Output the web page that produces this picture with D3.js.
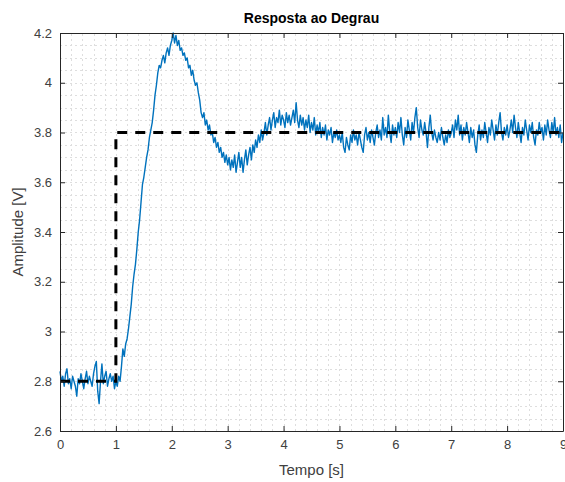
<!DOCTYPE html>
<html>
<head>
<meta charset="utf-8">
<script src="https://cdn.jsdelivr.net/npm/d3@7"></script>
<style>
  html, body { margin: 0; padding: 0; background: #fff; }
  svg { display: block; font-family: "Liberation Sans", Arial, sans-serif; }
</style>
</head>
<body>
<svg id="chart" width="565" height="482"></svg>
<script>
// ── Data ─────────────────────────────────────────────
const SAMPLE_START = 0;
const SAMPLE_STEP  = 0.025;   // s between samples
// measured output, one row per second
const amplitude = [
  2.84,2.80,2.82,2.78,2.83,2.85,2.79,2.81,2.77,2.82,2.80,2.78,2.74,2.81,2.79,2.83,2.80,2.77,2.81,2.84,2.79,2.82,2.80,2.78,2.83,2.86,2.88,2.76,2.71,2.80,2.87,2.79,2.82,2.84,2.78,2.81,2.83,2.80,2.82,2.77,
  2.80,2.78,2.82,2.80,2.86,2.93,2.90,2.95,2.97,3.01,3.06,3.11,3.18,3.23,3.27,3.33,3.40,3.45,3.52,3.59,3.62,3.66,3.70,3.73,3.78,3.81,3.84,3.89,3.95,3.99,4.04,4.07,4.06,4.09,4.11,4.08,4.12,4.14,4.11,4.15,
  4.17,4.20,4.16,4.19,4.15,4.17,4.13,4.14,4.11,4.12,4.09,4.10,4.06,4.07,4.03,4.05,4.01,3.99,4.00,3.96,3.93,3.88,3.86,3.88,3.83,3.85,3.81,3.83,3.79,3.80,3.76,3.78,3.74,3.76,3.72,3.74,3.70,3.72,3.68,3.71,
  3.67,3.70,3.65,3.69,3.66,3.71,3.64,3.68,3.72,3.66,3.70,3.64,3.69,3.73,3.67,3.71,3.74,3.69,3.75,3.72,3.77,3.74,3.79,3.76,3.81,3.77,3.80,3.84,3.79,3.83,3.86,3.81,3.85,3.88,3.82,3.86,3.84,3.89,3.83,3.87,
  3.85,3.82,3.88,3.84,3.87,3.83,3.86,3.89,3.84,3.92,3.85,3.82,3.87,3.83,3.86,3.81,3.85,3.82,3.87,3.80,3.84,3.81,3.86,3.79,3.83,3.80,3.84,3.78,3.82,3.79,3.83,3.77,3.81,3.79,3.82,3.76,3.80,3.78,3.81,3.77,
  3.79,3.76,3.80,3.74,3.72,3.78,3.75,3.73,3.79,3.76,3.81,3.77,3.79,3.75,3.80,3.77,3.74,3.72,3.79,3.82,3.77,3.80,3.76,3.81,3.78,3.75,3.80,3.83,3.78,3.81,3.77,3.86,3.79,3.82,3.78,3.87,3.80,3.76,3.83,3.79,
  3.82,3.78,3.84,3.80,3.86,3.79,3.75,3.82,3.78,3.85,3.81,3.77,3.84,3.80,3.86,3.90,3.82,3.78,3.85,3.81,3.79,3.84,3.80,3.74,3.82,3.87,3.80,3.77,3.81,3.78,3.76,3.80,3.77,3.82,3.78,3.75,3.79,3.76,3.81,3.78,
  3.80,3.83,3.78,3.85,3.81,3.87,3.79,3.83,3.77,3.82,3.79,3.84,3.80,3.76,3.82,3.78,3.81,3.75,3.72,3.79,3.83,3.77,3.81,3.78,3.84,3.80,3.76,3.82,3.79,3.85,3.81,3.77,3.83,3.79,3.84,3.88,3.80,3.77,3.82,3.79,
  3.83,3.78,3.81,3.85,3.80,3.87,3.82,3.78,3.84,3.80,3.76,3.82,3.79,3.85,3.81,3.77,3.83,3.80,3.84,3.78,3.75,3.81,3.79,3.84,3.80,3.82,3.77,3.83,3.79,3.85,3.81,3.78,3.84,3.80,3.86,3.79,3.82,3.78,3.83,3.76,
  3.80
];
// reference step input
const stepTime   = [0, 1, 1, 9];
const stepValue  = [2.8, 2.8, 3.8, 3.8];

const xTicks = [0, 1, 2, 3, 4, 5, 6, 7, 8, 9];
const yTicks = [2.6, 2.8, 3, 3.2, 3.4, 3.6, 3.8, 4, 4.2];

// ── Layout ───────────────────────────────────────────
const W = 565, H = 482;
const M = { left: 60, right: 2, top: 33, bottom: 51 };
const svg = d3.select('#chart');

const x = d3.scaleLinear().domain([0, 9]).range([M.left, W - M.right]);
const y = d3.scaleLinear().domain([2.6, 4.2]).range([H - M.bottom, M.top]);

const axisColor = '#262626';
const labelColor = '#404040';

// ── Grid (minor, dotted) ─────────────────────────────
const gGrid = svg.append('g');
const xMinor = d3.range(0, 9.001, 0.2);
const yMinor = d3.range(2.6, 4.2001, 0.05);

gGrid.selectAll('line.xg').data(xMinor).join('line')
  .attr('x1', d => Math.round(x(d)) + 0.5).attr('x2', d => Math.round(x(d)) + 0.5)
  .attr('y1', y(2.6)).attr('y2', y(4.2))
  .attr('stroke', '#dedede').attr('stroke-width', 1)
  .attr('stroke-dasharray', '2,3');
gGrid.selectAll('line.yg').data(yMinor).join('line')
  .attr('y1', d => Math.round(y(d)) + 0.5).attr('y2', d => Math.round(y(d)) + 0.5)
  .attr('x1', x(0)).attr('x2', x(9))
  .attr('stroke', '#dedede').attr('stroke-width', 1)
  .attr('stroke-dasharray', '2,3');

// ── Series ───────────────────────────────────────────
const measured = amplitude.map((v, i) => ({ t: SAMPLE_START + i * SAMPLE_STEP, v }));
const step = stepTime.map((t, i) => ({ t, v: stepValue[i] }));

const line = d3.line().x(d => x(d.t)).y(d => y(d.v));

svg.append('path').datum(measured)
  .attr('d', line)
  .attr('fill', 'none')
  .attr('stroke', '#0072BD')
  .attr('stroke-width', 1.4)
  .attr('stroke-linejoin', 'round');

svg.append('path').datum(step)
  .attr('d', line)
  .attr('fill', 'none')
  .attr('stroke', '#000')
  .attr('stroke-width', 3)
  .attr('stroke-dasharray', '10,8');

// ── Axes ─────────────────────────────────────────────
const tickLen = 5;
const fmt = d3.format('~g');

const gx = svg.append('g').attr('transform', `translate(0,${y(2.6)})`)
  .call(d3.axisBottom(x).tickValues(xTicks).tickFormat(fmt).tickSizeInner(-tickLen).tickSizeOuter(0).tickPadding(9));
const gxTop = svg.append('g').attr('transform', `translate(0,${y(4.2)})`)
  .call(d3.axisTop(x).tickValues(xTicks).tickFormat('').tickSizeInner(-tickLen).tickSizeOuter(0));
const gy = svg.append('g').attr('transform', `translate(${x(0)},0)`)
  .call(d3.axisLeft(y).tickValues(yTicks).tickFormat(fmt).tickSizeInner(-tickLen).tickSizeOuter(0).tickPadding(8));
const gyRight = svg.append('g').attr('transform', `translate(${x(9)},0)`)
  .call(d3.axisRight(y).tickValues(yTicks).tickFormat('').tickSizeInner(-tickLen).tickSizeOuter(0));

[gx, gxTop, gy, gyRight].forEach(g => {
  g.select('.domain').attr('stroke', axisColor).attr('stroke-width', 1);
  g.selectAll('.tick line').attr('stroke', axisColor);
  g.selectAll('.tick text')
    .attr('fill', labelColor)
    .attr('font-family', '"Liberation Sans", Arial, sans-serif')
    .attr('font-size', 13);
});

// ── Labels ───────────────────────────────────────────
svg.append('text')
  .attr('x', (x(0) + x(9)) / 2).attr('y', 23)
  .attr('text-anchor', 'middle')
  .attr('font-size', 14).attr('font-weight', 'bold')
  .attr('fill', '#000')
  .text('Resposta ao Degrau');

svg.append('text')
  .attr('x', (x(0) + x(9)) / 2).attr('y', 475)
  .attr('text-anchor', 'middle')
  .attr('font-size', 15).attr('fill', labelColor)
  .text('Tempo [s]');

svg.append('text')
  .attr('transform', `translate(23,${(y(2.6) + y(4.2)) / 2}) rotate(-90)`)
  .attr('text-anchor', 'middle')
  .attr('font-size', 15).attr('fill', labelColor)
  .text('Amplitude [V]');
</script>
</body>
</html>
